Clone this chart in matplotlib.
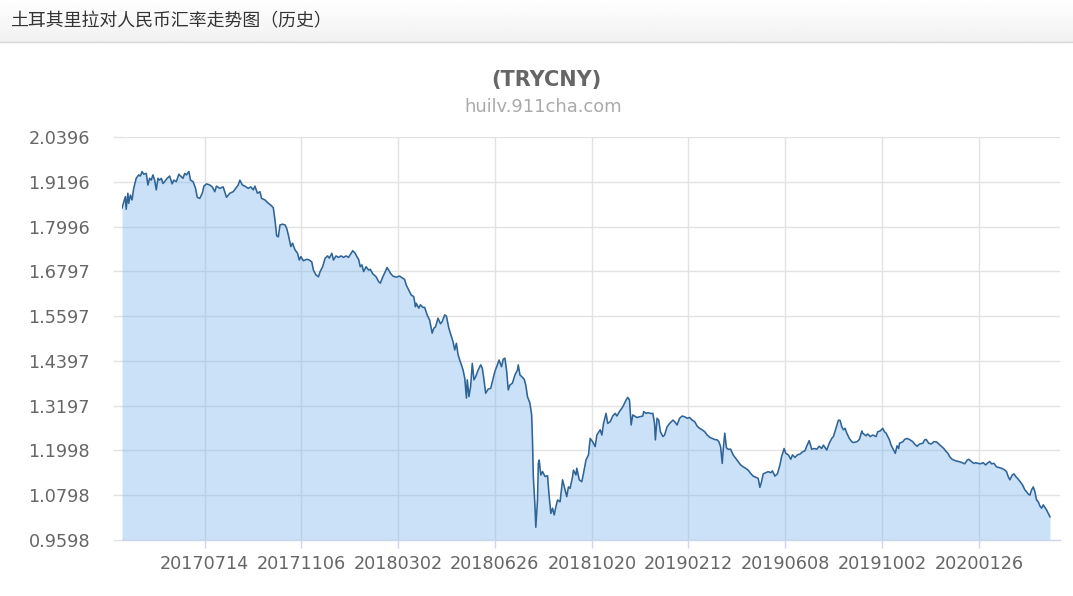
import matplotlib
matplotlib.use('Agg')
import matplotlib.pyplot as plt
import numpy as np
import pandas as pd
from matplotlib.lines import Line2D

# ---------------- data ----------------
header_title = '土耳其里拉对人民币汇率走势图（历史）'
chart_title = '(TRYCNY)'
chart_subtitle = 'huilv.911cha.com'

start_date = '2017-04-06'
day_offsets = [
    0, 4, 5, 7, 8, 10, 12, 14, 17, 20, 22, 24, 26, 29, 31, 33, 35, 37, 39, 41,
    43, 45, 47, 49, 51, 54, 57, 60, 62, 65, 68, 70, 73, 75, 77, 80, 82, 85, 88, 90,
    93, 96, 98, 101, 105, 108, 111, 113, 117, 121, 125, 129, 133, 136, 139, 141, 144, 147, 151, 154,
    157, 159, 162, 165, 167, 171, 174, 178, 181, 183, 185, 187, 189, 192, 195, 197, 199, 202, 204, 207,
    210, 212, 214, 217, 221, 224, 227, 229, 232, 235, 237, 240, 243, 246, 248, 251, 253, 256, 259, 262,
    265, 268, 271, 274, 276, 279, 281, 283, 285, 287, 289, 292, 295, 297, 300, 304, 307, 309, 312, 315,
    317, 319, 321, 324, 328, 332, 336, 338, 340, 344, 346, 349, 351, 352, 355, 357, 360, 362, 365, 368,
    371, 373, 375, 378, 381, 383, 386, 388, 391, 394, 396, 398, 400, 402, 404, 406, 408, 410, 412, 413,
    415, 417, 419, 421, 423, 426, 429, 431, 433, 435, 438, 441, 443, 446, 449, 451, 454, 456, 458, 460,
    462, 464, 467, 470, 473, 474, 476, 478, 481, 483, 485, 488, 490, 491, 492, 494, 495, 497, 498, 499,
    501, 503, 506, 509, 511, 513, 515, 517, 519, 521, 524, 527, 530, 532, 534, 536, 539, 540, 543, 544,
    547, 550, 552, 555, 558, 560, 563, 566, 568, 572, 574, 576, 579, 581, 584, 587, 590, 592, 595, 598,
    600, 603, 605, 607, 609, 611, 613, 616, 619, 623, 624, 627, 629, 632, 635, 637, 638, 640, 642, 644,
    647, 649, 652, 655, 659, 661, 664, 667, 670, 673, 676, 679, 682, 685, 688, 691, 694, 697, 700, 703,
    706, 709, 712, 714, 716, 718, 719, 721, 723, 725, 728, 731, 734, 737, 740, 743, 746, 749, 752, 755,
    758, 761, 763, 765, 767, 770, 773, 776, 778, 781, 784, 787, 789, 792, 794, 797, 800, 802, 805, 808,
    811, 814, 817, 819, 822, 825, 828, 831, 834, 837, 839, 843, 846, 849, 851, 854, 857, 859, 861, 863,
    865, 867, 870, 873, 875, 879, 882, 885, 886, 890, 892, 895, 898, 902, 904, 907, 910, 912, 914, 918,
    920, 923, 925, 927, 929, 930, 934, 936, 939, 942, 946, 948, 951, 954, 958, 960, 962, 965, 968, 971,
    974, 977, 980, 983, 985, 988, 990, 993, 997, 1001, 1005, 1008, 1011, 1013, 1016, 1019, 1021, 1024, 1027, 1030,
    1033, 1036, 1038, 1040, 1043, 1046, 1049, 1052, 1055, 1058, 1060, 1062, 1065, 1067, 1069, 1072, 1075, 1077, 1080, 1082,
    1084, 1086, 1088, 1090, 1092, 1094, 1096, 1098, 1100, 1102, 1104, 1106, 1108, 1110,
]
rates = [
    1.849, 1.880, 1.846, 1.889, 1.862, 1.884, 1.871, 1.902, 1.929, 1.938, 1.935, 1.947, 1.940, 1.942, 1.911, 1.929, 1.924, 1.938, 1.924, 1.898,
    1.929, 1.924, 1.929, 1.915, 1.920, 1.929, 1.935, 1.914, 1.924, 1.920, 1.940, 1.935, 1.929, 1.942, 1.938, 1.947, 1.924, 1.920, 1.902, 1.878,
    1.875, 1.889, 1.908, 1.914, 1.911, 1.906, 1.893, 1.908, 1.902, 1.906, 1.878, 1.889, 1.893, 1.902, 1.911, 1.924, 1.911, 1.908, 1.902, 1.906,
    1.898, 1.908, 1.889, 1.893, 1.875, 1.871, 1.864, 1.857, 1.850, 1.817, 1.775, 1.772, 1.804, 1.806, 1.804, 1.795, 1.777, 1.746, 1.755, 1.737,
    1.728, 1.710, 1.719, 1.708, 1.712, 1.710, 1.705, 1.683, 1.670, 1.665, 1.679, 1.692, 1.715, 1.721, 1.715, 1.728, 1.710, 1.721, 1.717, 1.721,
    1.717, 1.721, 1.717, 1.728, 1.735, 1.728, 1.719, 1.712, 1.692, 1.697, 1.679, 1.692, 1.683, 1.685, 1.673, 1.665, 1.652, 1.648, 1.665, 1.679,
    1.690, 1.683, 1.675, 1.667, 1.664, 1.667, 1.661, 1.658, 1.643, 1.625, 1.616, 1.612, 1.585, 1.594, 1.581, 1.590, 1.583, 1.583, 1.563, 1.549,
    1.514, 1.527, 1.531, 1.554, 1.539, 1.545, 1.563, 1.560, 1.527, 1.505, 1.491, 1.469, 1.487, 1.456, 1.442, 1.429, 1.415, 1.393, 1.340, 1.389,
    1.344, 1.371, 1.433, 1.389, 1.397, 1.415, 1.429, 1.420, 1.389, 1.353, 1.364, 1.366, 1.384, 1.411, 1.429, 1.442, 1.424, 1.444, 1.447, 1.415,
    1.362, 1.375, 1.380, 1.402, 1.415, 1.429, 1.402, 1.398, 1.391, 1.375, 1.344, 1.326, 1.295, 1.228, 1.130, 1.049, 0.994, 1.067, 1.165, 1.174,
    1.134, 1.143, 1.130, 1.132, 1.076, 1.031, 1.045, 1.027, 1.049, 1.067, 1.062, 1.121, 1.094, 1.076, 1.102, 1.098, 1.130, 1.147, 1.134, 1.152,
    1.121, 1.116, 1.138, 1.174, 1.188, 1.232, 1.223, 1.210, 1.241, 1.255, 1.241, 1.272, 1.299, 1.272, 1.277, 1.292, 1.299, 1.292, 1.304, 1.313,
    1.321, 1.335, 1.342, 1.335, 1.268, 1.295, 1.292, 1.288, 1.290, 1.292, 1.304, 1.299, 1.301, 1.299, 1.299, 1.272, 1.228, 1.286, 1.281, 1.250,
    1.237, 1.241, 1.263, 1.272, 1.281, 1.277, 1.268, 1.286, 1.292, 1.290, 1.286, 1.288, 1.281, 1.277, 1.265, 1.259, 1.255, 1.250, 1.241, 1.235,
    1.232, 1.229, 1.228, 1.223, 1.210, 1.165, 1.198, 1.246, 1.207, 1.203, 1.203, 1.188, 1.179, 1.170, 1.161, 1.156, 1.152, 1.147, 1.138, 1.131,
    1.128, 1.125, 1.101, 1.116, 1.137, 1.140, 1.143, 1.140, 1.145, 1.131, 1.137, 1.161, 1.183, 1.205, 1.192, 1.188, 1.176, 1.188, 1.181, 1.188,
    1.190, 1.196, 1.199, 1.211, 1.226, 1.203, 1.205, 1.203, 1.211, 1.205, 1.214, 1.201, 1.219, 1.232, 1.237, 1.259, 1.281, 1.280, 1.263, 1.255,
    1.259, 1.246, 1.232, 1.223, 1.221, 1.223, 1.229, 1.252, 1.246, 1.239, 1.244, 1.237, 1.241, 1.237, 1.250, 1.252, 1.259, 1.250, 1.246, 1.228,
    1.214, 1.201, 1.192, 1.212, 1.205, 1.219, 1.223, 1.229, 1.232, 1.229, 1.223, 1.217, 1.211, 1.217, 1.219, 1.228, 1.229, 1.219, 1.217, 1.223,
    1.223, 1.217, 1.211, 1.205, 1.199, 1.192, 1.183, 1.176, 1.172, 1.170, 1.167, 1.164, 1.174, 1.176, 1.170, 1.165, 1.167, 1.165, 1.164, 1.167,
    1.161, 1.167, 1.170, 1.164, 1.165, 1.156, 1.154, 1.152, 1.149, 1.143, 1.130, 1.121, 1.134, 1.137, 1.130, 1.123, 1.114, 1.108, 1.094, 1.089,
    1.083, 1.080, 1.094, 1.102, 1.089, 1.067, 1.062, 1.051, 1.045, 1.054, 1.047, 1.040, 1.031, 1.022,
]
y_ticks = [0.9598, 1.0798, 1.1998, 1.3197, 1.4397, 1.5597, 1.6797, 1.7996, 1.9196, 2.0396]
y_tick_labels = ['0.9598', '1.0798', '1.1998', '1.3197', '1.4397', '1.5597', '1.6797', '1.7996', '1.9196', '2.0396']
x_tick_labels = ['20170714', '20171106', '20180302', '20180626', '20181020',
                 '20190212', '20190608', '20191002', '20200126']

# ---------------- figure ----------------
W, H = 1073, 596
fig = plt.figure(figsize=(W / 100, H / 100), dpi=100)
fig.patch.set_facecolor('white')

# header bar
hh = 42
hax = fig.add_axes([0, 1 - hh / H, 1, hh / H])
grad = np.linspace(0.998, 0.945, 64).reshape(-1, 1)
hax.imshow(grad, cmap='gray', vmin=0, vmax=1, aspect='auto', extent=[0, 1, 0, 1])
hax.set_xlim(0, 1); hax.set_ylim(0, 1)
hax.axis('off')
fig.add_artist(Line2D([0, 1], [1 - hh / H, 1 - hh / H], transform=fig.transFigure,
                      color='#d9d9d9', lw=1))
fig.text(10 / W, 1 - 21 / H, header_title, family=['Noto Sans CJK SC', 'DejaVu Sans'],
         fontsize=12.9, color='#333333', ha='left', va='center')

# titles
fig.text(546 / W, 1 - 80 / H, chart_title, fontsize=15, fontweight='bold',
         color='#666666', ha='center', va='center')
fig.text(543 / W, 1 - 107 / H, chart_subtitle, fontsize=12.9,
         color='#aaaaaa', ha='center', va='center')

# plot area
left, right, top, bottom = 122, 1060, 137, 540
ax = fig.add_axes([left / W, 1 - bottom / H, (right - left) / W, (bottom - top) / H])

dates = pd.Timestamp(start_date) + pd.to_timedelta(day_offsets, unit='D')
xticks = pd.to_datetime(x_tick_labels, format='%Y%m%d')

ax.fill_between(dates, rates, y_ticks[0], color='#7cb5ec', alpha=0.4, lw=0, zorder=2)
ax.plot(dates, rates, color='#2f6497', lw=1.15, zorder=3)

ax.set_ylim(y_ticks[0], y_ticks[-1])
ax.set_xlim(pd.Timestamp(start_date), pd.Timestamp(start_date) + pd.Timedelta(days=1122))
ax.set_yticks(y_ticks)
ax.set_yticklabels(y_tick_labels)
ax.set_xticks(xticks)
ax.set_xticklabels(x_tick_labels)

ax.grid(True, color='#e2e2e2', lw=1.0, zorder=0)
ax.set_axisbelow(True)
for s in ax.spines.values():
    s.set_visible(False)
ax.spines['bottom'].set_visible(True)
ax.spines['bottom'].set_color('#ccd6eb')
ax.spines['bottom'].set_linewidth(1.0)

ax.tick_params(axis='y', length=6.5, width=1.0, color='#e2e2e2', pad=16.5,
               labelsize=12.7, labelcolor='#666666')
ax.tick_params(axis='x', length=6, width=1.0, color='#ccd6eb', pad=4.5,
               labelsize=12.7, labelcolor='#666666')

fig.savefig('out.png', dpi=100)
